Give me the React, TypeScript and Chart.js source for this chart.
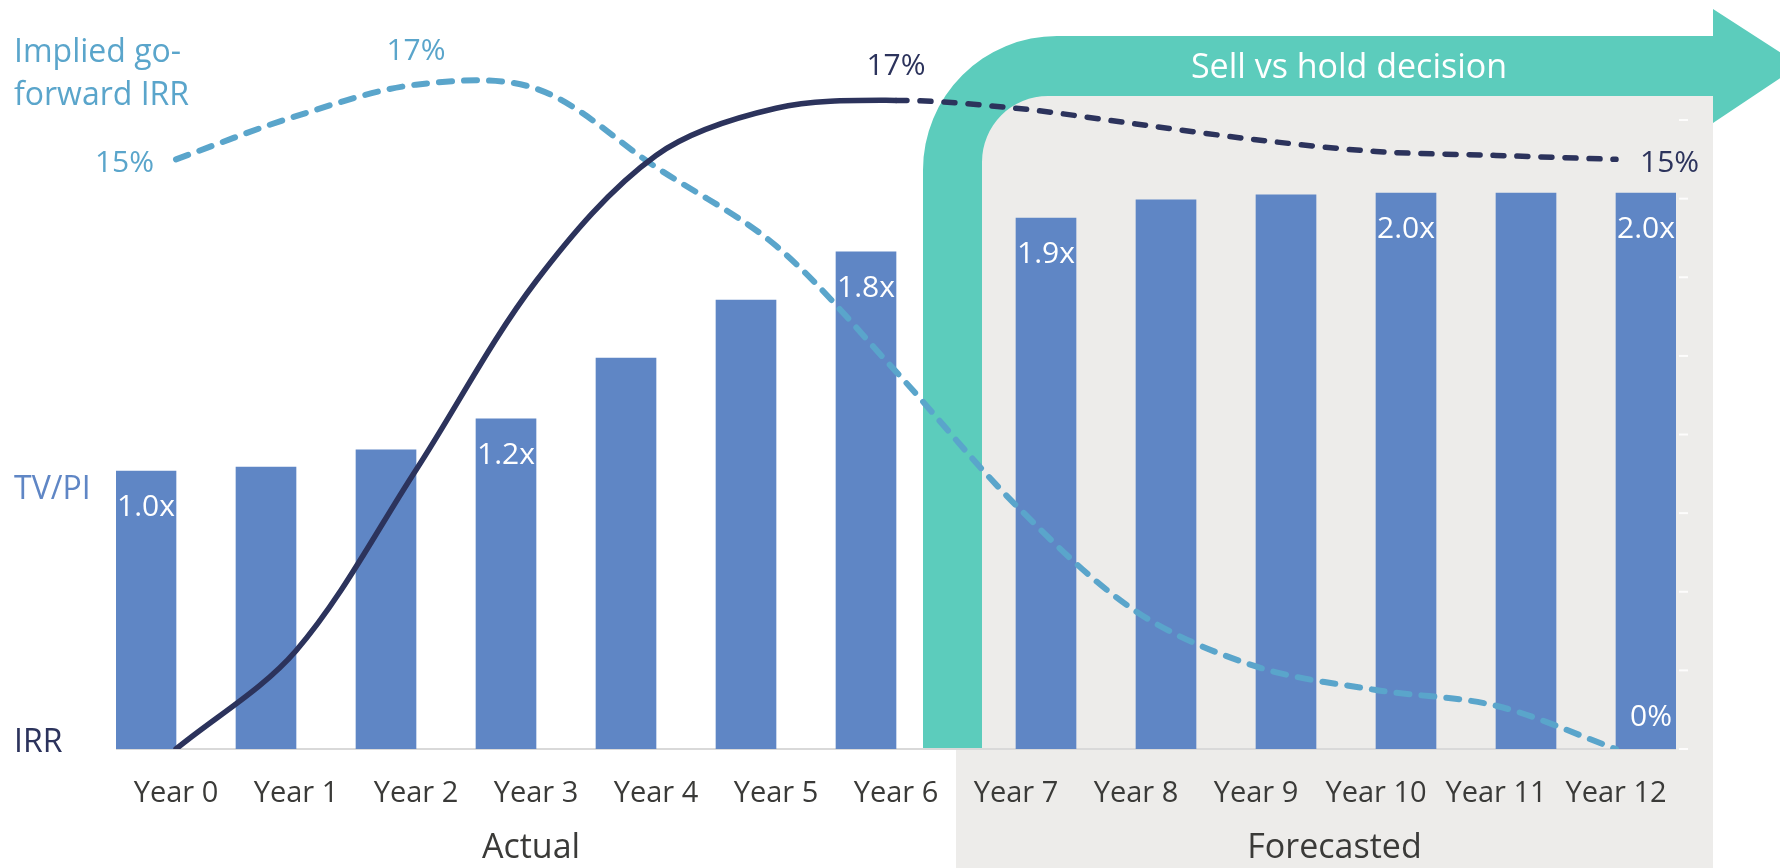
import React, { useEffect, useRef } from "react";
import { Chart, registerables } from "chart.js";

Chart.register(...registerables);

const categories = ["Year 0", "Year 1", "Year 2", "Year 3", "Year 4", "Year 5", "Year 6", "Year 7", "Year 8", "Year 9", "Year 10", "Year 11", "Year 12"];
const tvpiActual = [1.0, 1.014, 1.076, 1.188, 1.406, 1.615, 1.788, null, null, null, null, null, null];
const tvpiForecast = [null, null, null, null, null, null, null, 1.91, 1.975, 1.993, 2.0, 2.0, 2.0];
const irr = [0, 2.5, 7.1, 11.9, 15.1, 16.3, 16.5, 16.3, 15.9, 15.5, 15.2, 15.1, 15.0];
const goForwardIrr = [15.0, 16.1, 16.9, 16.8, 14.8, 12.8, 9.6, 6.2, 3.5, 2.1, 1.5, 1.1, 0];
const tvpiLabels = ["1.0x", "", "", "1.2x", "", "", "1.8x", "1.9x", "", "", "2.0x", "", "2.0x"];
const irrLabels = ["", "", "", "", "", "", "17%", "", "", "", "", "", "15%"];
const goForwardLabels = ["15%", "", "17%", "", "", "", "", "", "", "", "", "", "0%"];
const groupLabels = ["Actual", "Forecasted"];
const sideLabels = ["Implied go-", "forward IRR", "TV/PI", "IRR"];
const arrowTitle = "Sell vs hold decision";
const pctTicks = [0, 2, 4, 6, 8, 10, 12, 14, 16];

const FONT = "'Open Sans', sans-serif";
const BAR = "#5F86C5";
const NAVY = "#2C335C";
const LIGHT = "#5AA5CB";
const TEAL = "#5CCCBC";
const GRAY_BG = "#EDECEA";
const TEXT = "#3A3A38";

const decorPlugin = {
  id: "decor",
  beforeDatasetsDraw(chart: any) {
    const ctx = chart.ctx;
    const x = chart.scales.x;
    const yPct = chart.scales.yPct;
    const base = chart.chartArea.bottom;
    const mid = (x.getPixelForValue(6) + x.getPixelForValue(7)) / 2;
    ctx.save();
    // grey forecast panel
    ctx.fillStyle = GRAY_BG;
    ctx.fillRect(mid, 96, 1713 - mid, 868 - 96);
    // teal arrow
    const L = mid - 33, R = mid + 26, T = 36, B = 96, Ro = 134, Ri = 66;
    ctx.fillStyle = TEAL;
    ctx.beginPath();
    ctx.moveTo(L, base);
    ctx.lineTo(L, T + Ro);
    ctx.arcTo(L, T, L + Ro, T, Ro);
    ctx.lineTo(1713, T);
    ctx.lineTo(1713, 9);
    ctx.lineTo(1800, 65);
    ctx.lineTo(1713, 123);
    ctx.lineTo(1713, B);
    ctx.lineTo(R + Ri, B);
    ctx.arcTo(R, B, R, B + Ri, Ri);
    ctx.lineTo(R, base);
    ctx.closePath();
    ctx.fill();
    // baseline
    ctx.strokeStyle = "#D9D9D9";
    ctx.lineWidth = 2;
    ctx.beginPath();
    ctx.moveTo(chart.chartArea.left, base);
    ctx.lineTo(chart.chartArea.right, base);
    ctx.stroke();
    // faint ticks of hidden percent axis
    ctx.strokeStyle = "rgba(255,255,255,0.85)";
    ctx.lineWidth = 2;
    pctTicks.forEach((v) => {
      const yy = yPct.getPixelForValue(v);
      ctx.beginPath();
      ctx.moveTo(chart.chartArea.right + 3, yy);
      ctx.lineTo(chart.chartArea.right + 12, yy);
      ctx.stroke();
    });
    // title in arrow
    ctx.fillStyle = "#FFFFFF";
    ctx.font = `34px ${FONT}`;
    ctx.textAlign = "center";
    ctx.textBaseline = "alphabetic";
    ctx.fillText(arrowTitle, 1349, 78);
    // category labels
    ctx.fillStyle = TEXT;
    ctx.font = `29px ${FONT}`;
    categories.forEach((c, i) => {
      ctx.fillText(c, x.getPixelForValue(i), 802);
    });
    ctx.font = `34px ${FONT}`;
    ctx.fillText(groupLabels[0], (x.getPixelForValue(0) + x.getPixelForValue(6)) / 2 - 5, 858);
    ctx.fillText(groupLabels[1], (mid + 1713) / 2, 858);
    // side labels
    ctx.textAlign = "left";
    ctx.font = `32px ${FONT}`;
    ctx.fillStyle = LIGHT;
    ctx.fillText(sideLabels[0], 14, 62);
    ctx.fillText(sideLabels[1], 14, 105);
    ctx.fillStyle = BAR;
    ctx.fillText(sideLabels[2], 14, 499);
    ctx.fillStyle = NAVY;
    ctx.fillText(sideLabels[3], 14, 752);
    ctx.restore();
  },
  afterDatasetsDraw(chart: any) {
    const ctx = chart.ctx;
    ctx.save();
    ctx.font = `30px ${FONT}`;
    ctx.textBaseline = "alphabetic";
    ctx.textAlign = "center";
    // bar labels
    const mA = chart.getDatasetMeta(2);
    const mF = chart.getDatasetMeta(3);
    ctx.fillStyle = "#FFFFFF";
    tvpiLabels.forEach((lab, i) => {
      if (!lab) return;
      const el = tvpiActual[i] != null ? mA.data[i] : mF.data[i];
      ctx.fillText(lab, el.x, el.y + 45);
    });
    // IRR labels
    const mI = chart.getDatasetMeta(0);
    ctx.fillStyle = NAVY;
    irrLabels.forEach((lab, i) => {
      if (!lab) return;
      const p = mI.data[i];
      if (i === categories.length - 1) {
        ctx.textAlign = "left";
        ctx.fillText(lab, p.x + 24, p.y + 13);
      } else {
        ctx.textAlign = "center";
        ctx.fillText(lab, p.x, p.y - 25);
      }
    });
    // go-forward labels
    const mG = chart.getDatasetMeta(1);
    goForwardLabels.forEach((lab, i) => {
      if (!lab) return;
      const p = mG.data[i];
      if (i === 0) {
        ctx.fillStyle = LIGHT;
        ctx.textAlign = "right";
        ctx.fillText(lab, p.x - 22, p.y + 13);
      } else if (i === categories.length - 1) {
        ctx.fillStyle = "#FFFFFF";
        ctx.textAlign = "center";
        ctx.fillText(lab, p.x + 35, p.y - 23);
      } else {
        ctx.fillStyle = LIGHT;
        ctx.textAlign = "center";
        ctx.fillText(lab, p.x, p.y - 25);
      }
    });
    ctx.restore();
  },
};

export default function App() {
  const ref = useRef<HTMLCanvasElement | null>(null);
  useEffect(() => {
    if (!ref.current) return;
    const chart = new Chart(ref.current, {
      type: "bar",
      data: {
        labels: categories,
        datasets: [
          {
            type: "line",
            label: "IRR",
            data: irr,
            yAxisID: "yPct",
            borderColor: NAVY,
            borderWidth: 5.5,
            borderCapStyle: "round",
            pointRadius: 0,
            tension: 0.33,
            order: 0,
            segment: {
              borderDash: (c: any) => (c.p0DataIndex >= 6 ? [11, 13] : undefined),
            },
          } as any,
          {
            type: "line",
            label: "Implied go-forward IRR",
            data: goForwardIrr,
            yAxisID: "yPct",
            borderColor: LIGHT,
            borderWidth: 6,
            borderCapStyle: "round",
            borderDash: [13, 12],
            pointRadius: 0,
            tension: 0.33,
            order: 0,
          } as any,
          {
            type: "bar",
            label: "TV/PI actual",
            data: tvpiActual,
            yAxisID: "y",
            backgroundColor: BAR,
            categoryPercentage: 1,
            barPercentage: 1,
            order: 1,
          },
          {
            type: "bar",
            label: "TV/PI forecast",
            data: tvpiForecast,
            yAxisID: "y",
            backgroundColor: BAR,
            categoryPercentage: 1,
            barPercentage: 1,
            order: 1,
          },
        ],
      },
      options: {
        responsive: false,
        animation: false,
        devicePixelRatio: 1,
        layout: { padding: { left: 116, right: 104, top: 54, bottom: 119 } },
        plugins: { legend: { display: false }, tooltip: { enabled: false } },
        scales: {
          x: { display: false, offset: true, grid: { display: false } },
          y: { display: false, min: 0, max: 2.5 },
          yPct: { display: false, min: 0, max: 17.68, position: "right" },
        },
      },
      plugins: [decorPlugin],
    } as any);
    return () => chart.destroy();
  }, []);
  return (
    <div style={{ position: "fixed", left: 0, top: 0, width: 1780, height: 868, background: "#fff" }}>
      <canvas ref={ref} width={1780} height={868} style={{ width: 1780, height: 868, display: "block" }} />
    </div>
  );
}
